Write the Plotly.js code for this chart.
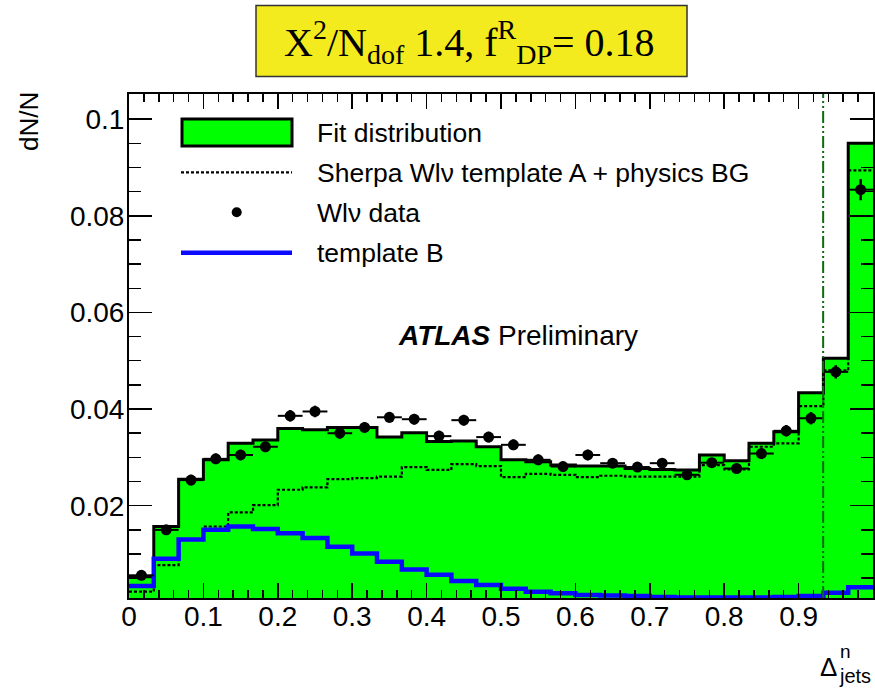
<!DOCTYPE html>
<html>
<head>
<meta charset="utf-8">
<script src="https://cdn.plot.ly/plotly-3.0.1.min.js"></script>
<style>html,body{margin:0;padding:0;background:#fff;}#chart{width:875px;height:688px;}</style>
</head>
<body>
<div id="chart"></div>
<script>
// Bin edges of Δ^n_jets (30 bins)
const binEdges = [0, 0.0333, 0.0667, 0.1, 0.1333, 0.1667, 0.2, 0.2333, 0.2667, 0.3,
  0.3333, 0.3667, 0.4, 0.4333, 0.4667, 0.5, 0.5333, 0.5667, 0.6, 0.6333,
  0.6667, 0.7, 0.7333, 0.7667, 0.8, 0.8333, 0.8667, 0.9, 0.9333, 0.9667, 1.0];

// Fit distribution (green filled histogram)
const fitValues = [0.0053, 0.0157, 0.0255, 0.0295, 0.0329, 0.0336, 0.0360, 0.0357, 0.0362, 0.0362,
  0.0342, 0.0351, 0.0333, 0.0334, 0.0322, 0.0295, 0.0291, 0.0284, 0.0282, 0.0282,
  0.0277, 0.0275, 0.0274, 0.0305, 0.0293, 0.0329, 0.0353, 0.0434, 0.0505, 0.0950];

// Sherpa Wlν template A + physics BG (dotted)
const templateA = [0.0022, 0.0077, 0.0131, 0.0157, 0.0186, 0.0201, 0.0233, 0.0238, 0.0255, 0.0257,
  0.0260, 0.0280, 0.0274, 0.0286, 0.0282, 0.0259, 0.0266, 0.0264, 0.0259, 0.0262,
  0.0260, 0.0260, 0.0260, 0.0284, 0.0275, 0.0322, 0.0329, 0.0406, 0.0480, 0.0894];

// Wlν data
const dataValues = [0.0056, 0.0150, 0.0253, 0.0297, 0.0305, 0.0322, 0.0386, 0.0395, 0.0350, 0.0362,
  0.0383, 0.0379, 0.0344, 0.0377, 0.0342, 0.0326, 0.0295, 0.0281, 0.0305, 0.0288,
  0.0280, 0.0288, 0.0264, 0.0289, 0.0277, 0.0308, 0.0355, 0.0381, 0.0477, 0.0854];
const dataErrors = [0.0008, 0.0010, 0.0011, 0.0011, 0.0011, 0.0011, 0.0012, 0.0012, 0.0011, 0.0011,
  0.0011, 0.0011, 0.0011, 0.0011, 0.0011, 0.0011, 0.0011, 0.0010, 0.0011, 0.0010,
  0.0010, 0.0010, 0.0010, 0.0010, 0.0010, 0.0011, 0.0012, 0.0013, 0.0014, 0.0022];

// template B (blue)
const templateB = [0.0034, 0.0090, 0.0130, 0.0150, 0.0157, 0.0152, 0.0143, 0.0133, 0.0115, 0.0101,
  0.0084, 0.0068, 0.0057, 0.0044, 0.0036, 0.0028, 0.0022, 0.0019, 0.0015, 0.0014,
  0.0013, 0.0011, 0.0010, 0.0010, 0.0010, 0.0010, 0.0011, 0.0013, 0.0020, 0.0031];

// vertical cut line position
const cutPosition = 0.933;

const xTitleText = 'Δ';
const yTitleText = 'dN/N';
const headerText = 'X<sup>2</sup>/N<sub>dof</sub> 1.4, f<sup>R</sup><sub>DP</sub>= 0.18';
const legendLabels = ['Fit distribution', 'Sherpa Wlν template A + physics BG', 'Wlν data', 'template B'];

// ---- build step coordinates from the histograms ----
function stepY(vals) { return vals.concat([vals[vals.length - 1]]); }
const binCenters = dataValues.map((_, i) => (binEdges[i] + binEdges[i + 1]) / 2);
const binHalfWidths = dataValues.map((_, i) => (binEdges[i + 1] - binEdges[i]) / 2);

const traces = [
  {
    x: binEdges, y: stepY(fitValues), type: 'scatter', mode: 'lines',
    line: {shape: 'hv', color: '#000', width: 3},
    fill: 'tozeroy', fillcolor: '#00ff00', showlegend: false, hoverinfo: 'skip'
  },
  {
    x: binEdges, y: stepY(templateA), type: 'scatter', mode: 'lines',
    line: {shape: 'hv', color: '#000', width: 2.2, dash: '3px,2px'},
    showlegend: false, hoverinfo: 'skip'
  },
  {
    x: binEdges, y: stepY(templateB), type: 'scatter', mode: 'lines',
    line: {shape: 'hv', color: '#0a0aff', width: 4.5},
    showlegend: false, hoverinfo: 'skip'
  },
  {
    x: binCenters, y: dataValues, type: 'scatter', mode: 'markers',
    marker: {color: '#000', size: 11, symbol: 'circle'},
    error_x: {type: 'data', array: binHalfWidths, visible: true, color: '#000', thickness: 2, width: 0},
    error_y: {type: 'data', array: dataErrors, visible: true, color: '#000', thickness: 2.5, width: 0},
    showlegend: false, hoverinfo: 'skip'
  }
];

// plot area in pixels
const L = 129, R = 873, T = 94, B = 598;
const px = v => (v - L) / (R - L);
const py = v => (B - v) / (B - T);

const sansFont = 'Liberation Sans, Arial, Helvetica, sans-serif';

const shapes = [
  // cut line
  {type: 'line', xref: 'x', yref: 'paper', x0: cutPosition, x1: cutPosition, y0: 0, y1: 1,
   line: {color: '#0d6b0d', width: 2, dash: '12px,3px,2px,3px,2px,3px'}},
  // header box
  {type: 'rect', xref: 'paper', yref: 'paper', x0: px(256), x1: px(687), y0: py(76.5), y1: py(5.5),
   fillcolor: '#f3eb1e', line: {color: '#333', width: 1.5}},
  // legend keys
  {type: 'rect', xref: 'paper', yref: 'paper', x0: px(182), x1: px(292), y0: py(146), y1: py(119),
   fillcolor: '#00ff00', line: {color: '#000', width: 3}},
  {type: 'line', xref: 'paper', yref: 'paper', x0: px(181), x1: px(292), y0: py(172.3), y1: py(172.3),
   line: {color: '#000', width: 2.2, dash: '3px,2px'}},
  {type: 'circle', xref: 'paper', yref: 'paper', x0: px(231.7), x1: px(241.7), y0: py(217.3), y1: py(207.3),
   fillcolor: '#000', line: {color: '#000', width: 0}},
  {type: 'line', xref: 'paper', yref: 'paper', x0: px(181), x1: px(292), y0: py(252.7), y1: py(252.7),
   line: {color: '#0a0aff', width: 4.5}}
];

const legendY = [133, 172.5, 212.5, 252.5];
const annotations = [
  {xref: 'paper', yref: 'paper', x: px(469), y: py(42), text: headerText, showarrow: false,
   xanchor: 'center', yanchor: 'middle', font: {family: 'Liberation Serif, Times New Roman, serif', size: 40, color: '#000'}},
  {xref: 'paper', yref: 'paper', x: px(29), y: py(122), text: yTitleText, showarrow: false, textangle: -90,
   xanchor: 'center', yanchor: 'middle', font: {family: sansFont, size: 26, color: '#000'}},
  {xref: 'paper', yref: 'paper', x: px(818), y: py(667), text: xTitleText, showarrow: false,
   xanchor: 'left', yanchor: 'middle', font: {family: sansFont, size: 26, color: '#000'}},
  {xref: 'paper', yref: 'paper', x: px(837.5), y: py(651), text: 'n', showarrow: false,
   xanchor: 'left', yanchor: 'middle', font: {family: sansFont, size: 19, color: '#000'}},
  {xref: 'paper', yref: 'paper', x: px(836.5), y: py(676), text: 'jets', showarrow: false,
   xanchor: 'left', yanchor: 'middle', font: {family: sansFont, size: 20, color: '#000'}},
  {xref: 'paper', yref: 'paper', x: px(396), y: py(335), text: '<b><i>ATLAS</i></b> Preliminary', showarrow: false,
   xanchor: 'left', yanchor: 'middle', font: {family: sansFont, size: 28, color: '#000'}}
];
legendLabels.forEach((t, i) => {
  annotations.push({xref: 'paper', yref: 'paper', x: px(315), y: py(legendY[i]), text: t, showarrow: false,
    xanchor: 'left', yanchor: 'middle', font: {family: sansFont, size: 26.5, color: '#000'}});
});

const axisCommon = {
  showgrid: false, zeroline: false, showline: true, linecolor: '#000', linewidth: 2,
  mirror: 'ticks', ticks: 'inside', tickcolor: '#000', tickwidth: 1.5,
  tickfont: {family: sansFont, size: 28, color: '#000'}
};

const layout = {
  width: 875, height: 688,
  margin: {l: L, r: 875 - R, t: T, b: 688 - B, pad: 0},
  paper_bgcolor: '#fff', plot_bgcolor: '#fff',
  showlegend: false,
  xaxis: Object.assign({}, axisCommon, {
    range: [0, 1], tick0: 0, dtick: 0.1, ticklen: 15, ticklabelstandoff: -8,
    minor: {dtick: 0.02, ticklen: 8, ticks: 'inside', tickcolor: '#000', tickwidth: 1.5, showgrid: false}
  }),
  yaxis: Object.assign({}, axisCommon, {
    range: [0.0009, 0.1052], tick0: 0, dtick: 0.02, ticklen: 23, ticklabelstandoff: -3,
    minor: {dtick: 0.005, ticklen: 12, ticks: 'inside', tickcolor: '#000', tickwidth: 1.5, showgrid: false}
  }),
  shapes: shapes,
  annotations: annotations
};

Plotly.newPlot('chart', traces, layout, {displayModeBar: false, staticPlot: true});
</script>
</body>
</html>
